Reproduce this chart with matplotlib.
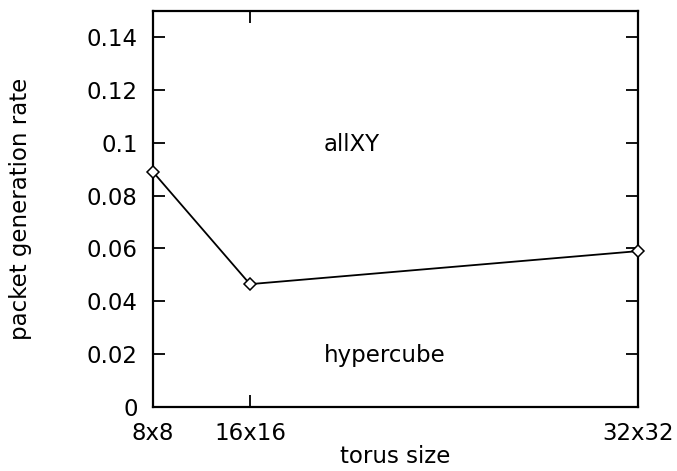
import matplotlib
matplotlib.use("Agg")
import matplotlib.pyplot as plt

plt.rcParams['font.family'] = ['DejaVu Sans']

# torus size as number of nodes (8x8, 16x16, 32x32)
nodes = [64, 256, 1024]
tick_labels = ['8x8', '16x16', '32x32']
rate = [0.089, 0.0465, 0.059]

fs = 16.5

fig = plt.figure(figsize=(6.77, 4.71), dpi=100)
ax = fig.add_axes([0.226, 0.136, 0.716, 0.841])

ax.plot(nodes, rate, color='black', lw=1.3, marker='D', ms=6.5,
        mfc='white', mec='black', mew=1.1, clip_on=False, zorder=3)

ax.text(0.352, 0.663, 'allXY', transform=ax.transAxes, fontsize=fs,
        ha='left', va='center')
ax.text(0.352, 0.130, 'hypercube', transform=ax.transAxes, fontsize=fs,
        ha='left', va='center')

ax.set_xlim(64, 1024)
ax.set_ylim(0, 0.15)
ax.set_xticks(nodes)
ax.set_xticklabels(tick_labels)
ax.set_yticks([0, 0.02, 0.04, 0.06, 0.08, 0.1, 0.12, 0.14])
ax.set_yticklabels(['0', '0.02', '0.04', '0.06', '0.08', '0.1', '0.12', '0.14'])
ax.tick_params(direction='in', length=8.5, width=1.3, labelsize=fs,
               top=True, right=True)
ax.tick_params(axis='y', pad=11)
ax.tick_params(axis='x', pad=11)

for s in ax.spines.values():
    s.set_linewidth(1.6)

ax.set_xlabel('torus size', fontsize=fs)
ax.set_ylabel('packet generation rate', fontsize=fs)
ax.xaxis.set_label_coords(0.5, -0.095)
ax.yaxis.set_label_coords(-0.249, 0.5)

fig.savefig('out.png', dpi=100)
